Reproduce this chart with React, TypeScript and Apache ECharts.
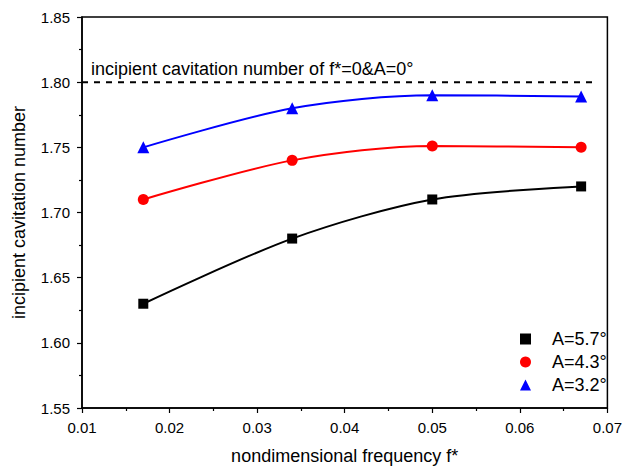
import React, { useEffect, useRef } from "react";
import * as echarts from "echarts";

const freq = [0.017, 0.034, 0.05, 0.067];
const a57 = [1.63, 1.68, 1.71, 1.72];
const a43 = [1.71, 1.74, 1.751, 1.75];
const a32 = [1.75, 1.78, 1.79, 1.789];
const refLineX = [0.01, 0.0688];
const refLineY = [1.8, 1.8];
const seriesNames = ["A=5.7°", "A=4.3°", "A=3.2°"];
const refLabel = "incipient cavitation number of f*=0&A=0°";

const FONT = "Liberation Sans, Arial, sans-serif";

export default function App() {
  const ref = useRef<HTMLDivElement>(null);
  useEffect(() => {
    const chart = echarts.init(ref.current!, null, { renderer: "svg" });
    const mk = (ys: number[]) => freq.map((x, i) => [x, ys[i]]);
    const axisCommon = {
      axisLine: { show: true, onZero: false, lineStyle: { color: "#000", width: 1.5 } },
      axisTick: { show: true, inside: false, length: 5, lineStyle: { color: "#000", width: 1.2 } },
      minorTick: { show: true, splitNumber: 2, length: 3, lineStyle: { color: "#000", width: 1.2 } },
      splitLine: { show: false },
      nameTextStyle: { fontFamily: FONT, fontSize: 18, color: "#000" },
    };
    chart.setOption({
      animation: false,
      backgroundColor: "#fff",
      textStyle: { fontFamily: FONT },
      grid: { left: 82, right: 13, top: 17, bottom: 58, show: true, borderColor: "#000", borderWidth: 1.5 },
      xAxis: {
        type: "value",
        min: 0.01,
        max: 0.07,
        interval: 0.01,
        name: "nondimensional frequency f*",
        nameLocation: "middle",
        nameGap: 39,
        ...axisCommon,
        axisLabel: {
          fontFamily: FONT,
          fontSize: 15,
          color: "#000",
          margin: 12,
          formatter: (v: number) => v.toFixed(2),
        },
      },
      yAxis: {
        type: "value",
        min: 1.55,
        max: 1.85,
        interval: 0.05,
        name: "incipient cavitation number",
        nameLocation: "middle",
        nameGap: 54,
        ...axisCommon,
        axisLabel: {
          fontFamily: FONT,
          fontSize: 15,
          color: "#000",
          margin: 12,
          formatter: (v: number) => v.toFixed(2),
        },
      },
      legend: {
        orient: "vertical",
        left: 515,
        top: 325,
        itemWidth: 11,
        itemHeight: 11,
        itemGap: 5,
        data: [
          { name: seriesNames[0], icon: "rect" },
          { name: seriesNames[1], icon: "circle" },
          { name: seriesNames[2], icon: "triangle" },
        ],
        textStyle: { fontFamily: FONT, fontSize: 18, color: "#000", padding: [0, 0, 0, 16] },
      },
      graphic: [
        {
          type: "text",
          left: 91,
          top: 60,
          style: { text: refLabel, fontFamily: FONT, fontSize: 18, fill: "#000" },
        },
      ],
      series: [
        {
          name: "ref",
          type: "line",
          data: refLineX.map((x, i) => [x, refLineY[i]]),
          symbol: "none",
          lineStyle: { color: "#000", width: 2, type: [6, 6] },
          silent: true,
        },
        {
          name: seriesNames[0],
          type: "line",
          data: mk(a57),
          smooth: 0.3,
          symbol: "rect",
          symbolSize: 10,
          itemStyle: { color: "#000" },
          lineStyle: { color: "#000", width: 2 },
        },
        {
          name: seriesNames[1],
          type: "line",
          data: mk(a43),
          smooth: 0.3,
          symbol: "circle",
          symbolSize: 11,
          itemStyle: { color: "#ff0000" },
          lineStyle: { color: "#ff0000", width: 2 },
        },
        {
          name: seriesNames[2],
          type: "line",
          data: mk(a32),
          smooth: 0.3,
          symbol: "triangle",
          symbolSize: 12,
          itemStyle: { color: "#0000ff" },
          lineStyle: { color: "#0000ff", width: 2 },
        },
      ],
    });
    return () => chart.dispose();
  }, []);
  return <div ref={ref} style={{ width: 625, height: 470, position: "absolute", left: 0, top: 0 }} />;
}
